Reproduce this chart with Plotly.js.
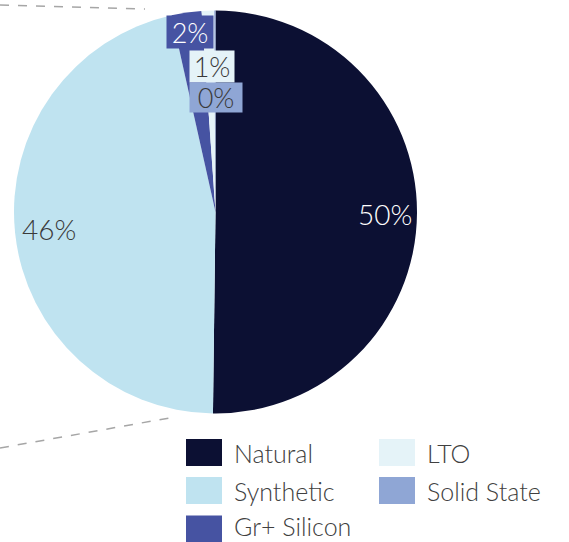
<!DOCTYPE html>
<html>
<head>
<meta charset="utf-8">
<script src="https://cdn.plot.ly/plotly-3.0.1.min.js"></script>
<style>html,body{margin:0;padding:0;background:#fff;}#chart{width:569px;height:542px;}</style>
</head>
<body>
<div id="chart"></div>
<script>
const labels = ["Natural", "Synthetic", "Gr+ Silicon", "LTO", "Solid State"];
const values = [50.2, 46.3, 2.4, 1.0, 0.1];
const colors = ["#0c1033", "#bfe3f0", "#4653a2", "#e5f3f8", "#8fa6d5"];
const textColors = ["#ffffff", "#3a3a3a", "#ffffff", "#3a3a3a", "#3a3a3a"];

const W = 569, H = 542;
const FONT = "Lato, 'Open Sans', sans-serif";

// label placement (pixels), font size and box backgrounds for the small slices
const labelPos = [
  {x: 385, y: 214, size: 28, bg: null},
  {x: 49, y: 229, size: 28, bg: null},
  {x: 190, y: 32, size: 27, bg: colors[2], w: 46, h: 32},
  {x: 212, y: 66, size: 27, bg: colors[3], w: 44, h: 31},
  {x: 216, y: 97.5, size: 27, bg: colors[4], w: 52, h: 29}
];

const trace = {
  type: "pie",
  labels: labels,
  values: values,
  sort: false,
  direction: "clockwise",
  rotation: 0,
  marker: {colors: colors, line: {width: 0}},
  textinfo: "none",
  hoverinfo: "label+percent",
  showlegend: false,
  domain: {x: [14 / W, 417 / W], y: [1 - 413.5 / H, 1 - 10.5 / H]}
};

const annotations = [];
const total = values.reduce((a, b) => a + b, 0);
values.forEach((v, i) => {
  const p = labelPos[i];
  const a = {
    xref: "paper", yref: "paper",
    x: p.x / W, y: 1 - p.y / H,
    xanchor: "center", yanchor: "middle",
    text: Math.round(v / total * 100) + "%",
    showarrow: false,
    font: {family: FONT, size: p.size, color: textColors[i], weight: 300}
  };
  if (p.bg) { a.bgcolor = p.bg; a.width = p.w; a.height = p.h; a.borderpad = 0; }
  annotations.push(a);
});

// manual two-column legend (column-major like the reference)
const shapes = [
  {type: "line", xref: "paper", yref: "paper", x0: 0, y0: 1 - 5 / H, x1: 145 / W, y1: 1 - 9 / H,
   line: {color: "#a6a6a6", width: 1.5, dash: "dash"}},
  {type: "line", xref: "paper", yref: "paper", x0: 0, y0: 1 - 448 / H, x1: 175 / W, y1: 1 - 417 / H,
   line: {color: "#a6a6a6", width: 1.5, dash: "dash"}}
];
const colX = [186, 379];
const rowY = [452.5, 490.5, 529];
labels.forEach((lab, i) => {
  const col = i < 3 ? 0 : 1;
  const row = i < 3 ? i : i - 3;
  const x0 = colX[col], yc = rowY[row];
  shapes.push({type: "rect", xref: "paper", yref: "paper",
    x0: x0 / W, x1: (x0 + 36) / W, y0: 1 - (yc + 13.5) / H, y1: 1 - (yc - 13.5) / H,
    fillcolor: colors[i], line: {width: 0}});
  annotations.push({xref: "paper", yref: "paper", x: (x0 + 46) / W, y: 1 - Math.min(yc, 526) / H,
    xanchor: "left", yanchor: "middle", text: lab, showarrow: false,
    font: {family: FONT, size: 25, color: "#404040", weight: 300}});
});

const layout = {
  width: W, height: H,
  margin: {l: 0, r: 0, t: 0, b: 0},
  paper_bgcolor: "#ffffff",
  showlegend: false,
  annotations: annotations,
  shapes: shapes,
  font: {family: FONT}
};

Plotly.newPlot("chart", [trace], layout, {displayModeBar: false, staticPlot: true});
</script>
</body>
</html>
